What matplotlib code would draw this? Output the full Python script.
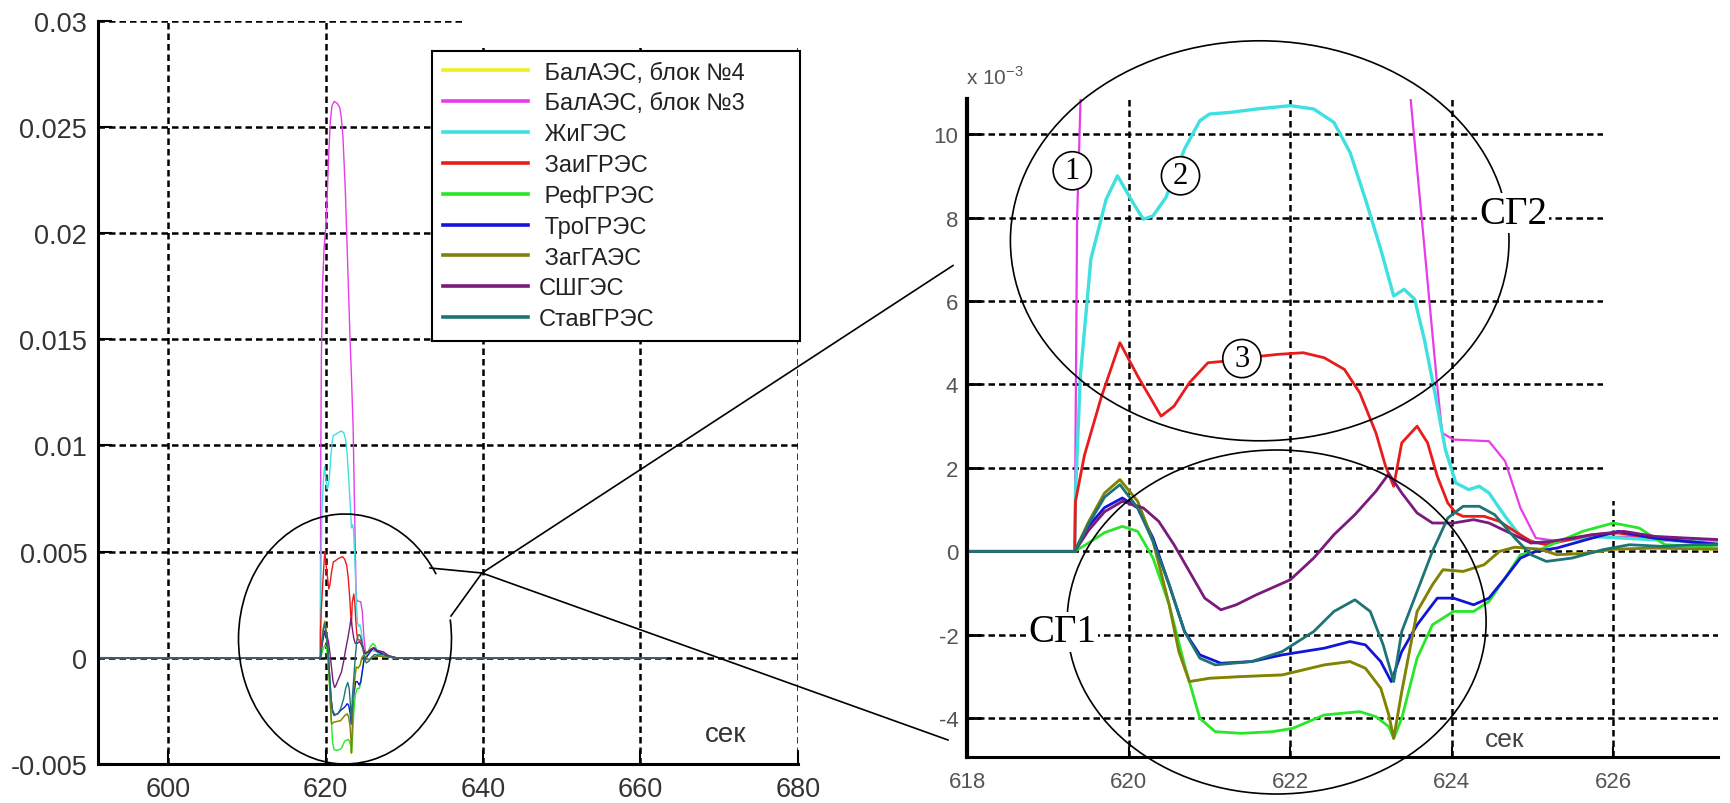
import numpy as np
import matplotlib
matplotlib.use("Agg")
import matplotlib.pyplot as plt
from matplotlib.patches import Ellipse, Arc, Rectangle
from matplotlib.lines import Line2D

plt.rcParams['font.family'] = ['Liberation Sans', 'DejaVu Sans']

NAMES = ['БалАЭС, блок №4', 'БалАЭС, блок №3', 'ЖиГЭС', 'ЗаиГРЭС', 'РефГРЭС',
         'ТроГРЭС', 'ЗагГАЭС', 'СШГЭС', 'СтавГРЭС']
COLORS = ['#f0f020', '#e83ce8', '#3ee0e0', '#e81c1c', '#28e628',
          '#1414d8', '#808010', '#7a1a7a', '#1e7474']

# (time, value in units of 1e-3)
BAL3 = [(591.0, 0), (619.30, 0), (619.33, 0), (619.36, 8.0), (619.45, 14.0), (619.60, 17.5),
        (619.80, 19.3), (620.00, 20.2), (620.20, 21.8), (620.40, 23.8), (620.60, 25.3),
        (620.80, 26.0), (621.10, 26.2), (621.50, 26.1), (621.80, 25.9), (622.00, 25.4),
        (622.20, 24.5), (622.50, 22.0), (622.80, 18.5), (623.10, 15.0), (623.30, 13.0),
        (623.49, 10.84), (623.82, 3.96), (623.88, 2.84), (624.02, 2.68), (624.46, 2.64),
        (624.66, 2.16), (624.85, 1.04), (625.04, 0.32), (625.30, 0.25), (625.80, 0.35),
        (626.30, 0.35), (626.80, 0.3), (627.30, 0.25), (628.0, 0.1), (629.0, 0), (663.3, 0)]
ZHI = [(591.0, 0), (619.30, 0), (619.33, 0), (619.34, 1.4), (619.40, 4.2), (619.53, 7.0),
       (619.72, 8.44), (619.86, 9.0), (620.05, 8.36), (620.18, 7.96), (620.30, 8.04),
       (620.46, 8.48), (620.69, 9.64), (620.88, 10.32), (621.00, 10.48),
       (621.26, 10.52), (621.58, 10.6), (622.00, 10.68), (622.29, 10.6), (622.54, 10.28),
       (622.74, 9.56), (622.93, 8.44), (623.12, 7.24), (623.28, 6.12), (623.41, 6.28),
       (623.54, 6.04), (623.66, 5.08), (623.79, 3.8), (623.92, 2.44), (624.05, 1.64),
       (624.21, 1.48), (624.34, 1.56), (624.46, 1.4), (624.66, 0.84), (624.85, 0.36),
       (625.04, 0.2), (625.30, 0.25), (625.80, 0.35), (626.30, 0.3), (626.80, 0.25),
       (627.30, 0.2), (628.0, 0.08), (629.0, 0), (663.3, 0)]
ZAI = [(591.0, 0), (619.30, 0), (619.33, 0), (619.34, 1.2), (619.45, 2.3), (619.66, 3.7),
       (619.89, 5.0), (620.11, 4.2), (620.40, 3.24), (620.56, 3.48), (620.75, 4.04),
       (620.98, 4.52), (621.20, 4.56), (621.50, 4.65), (621.84, 4.72), (622.16, 4.76),
       (622.42, 4.64), (622.67, 4.36), (622.86, 3.8), (623.06, 2.84), (623.18, 2.04),
       (623.28, 1.56), (623.38, 2.6), (623.57, 3.0), (623.70, 2.6), (623.82, 1.8),
       (623.95, 1.16), (624.05, 0.92), (624.14, 0.84), (624.40, 0.84), (624.59, 0.72),
       (624.78, 0.48), (624.98, 0.24), (625.17, 0.16), (625.74, 0.4), (626.06, 0.44),
       (626.51, 0.32), (626.90, 0.24), (627.34, 0.16), (628.0, 0.08), (629.0, 0), (663.3, 0)]
REF = [(591.0, 0), (619.30, 0), (619.33, 0), (619.50, 0.2), (619.70, 0.45), (619.92, 0.6),
       (620.11, 0.48), (620.30, -0.16), (620.50, -1.28), (620.69, -2.72), (620.88, -4.0),
       (621.07, -4.32), (621.39, -4.36), (621.78, -4.32), (622.03, -4.24), (622.42, -3.92),
       (622.86, -3.84), (623.06, -3.96), (623.22, -4.2), (623.28, -4.48), (623.38, -4.0),
       (623.57, -2.56), (623.76, -1.76), (624.02, -1.44), (624.27, -1.44), (624.46, -1.2),
       (624.66, -0.64), (624.85, -0.08), (625.04, 0.0), (625.23, 0.16), (625.62, 0.48),
       (626.00, 0.68), (626.32, 0.56), (626.64, 0.16), (627.02, 0.12), (627.34, 0.08),
       (628.0, 0.03), (629.0, 0), (663.3, 0)]
TRO = [(591.0, 0), (619.30, 0), (619.33, 0), (619.50, 0.6), (619.70, 1.05), (619.92, 1.28),
       (620.11, 1.04), (620.30, 0.32), (620.50, -0.8), (620.69, -1.92), (620.88, -2.48),
       (621.14, -2.68), (621.52, -2.64), (621.90, -2.48), (622.42, -2.32), (622.74, -2.16),
       (622.93, -2.24), (623.12, -2.64), (623.25, -3.12), (623.38, -2.4), (623.57, -1.76),
       (623.82, -1.12), (624.02, -1.12), (624.27, -1.28), (624.46, -1.12), (624.66, -0.64),
       (624.85, -0.16), (625.04, 0.0), (625.30, 0.08), (625.74, 0.32), (626.06, 0.48),
       (626.50, 0.32), (626.90, 0.24), (627.34, 0.16), (628.0, 0.05), (629.0, 0), (663.3, 0)]
ZAG = [(591.0, 0), (619.30, 0), (619.33, 0), (619.50, 0.7), (619.70, 1.4), (619.89, 1.72),
       (620.11, 1.2), (620.30, 0.24), (620.50, -1.28), (620.62, -2.4), (620.75, -3.12),
       (621.00, -3.04), (621.39, -3.0), (621.90, -2.96), (622.42, -2.72), (622.74, -2.64),
       (622.93, -2.8), (623.12, -3.28), (623.22, -3.92), (623.28, -4.48), (623.38, -3.36),
       (623.57, -1.44), (623.76, -0.8), (623.89, -0.44), (624.14, -0.48), (624.40, -0.32),
       (624.59, 0.0), (624.78, 0.1), (625.10, 0.05), (625.30, -0.08), (625.62, -0.05),
       (626.00, 0.05), (626.50, 0.08), (627.34, 0.05), (629.0, 0), (663.3, 0)]
SSH = [(591.0, 0), (619.30, 0), (619.33, 0), (619.50, 0.5), (619.70, 0.95), (619.92, 1.2),
       (620.18, 1.04), (620.37, 0.72), (620.56, 0.16), (620.75, -0.48), (620.94, -1.12),
       (621.14, -1.4), (621.33, -1.28), (621.58, -1.04), (622.00, -0.68), (622.29, -0.16),
       (622.54, 0.4), (622.80, 0.88), (623.06, 1.44), (623.22, 1.86), (623.38, 1.4),
       (623.57, 0.92), (623.76, 0.68), (624.02, 0.68), (624.27, 0.76), (624.46, 0.68),
       (624.72, 0.44), (624.98, 0.2), (625.23, 0.24), (625.74, 0.4), (626.13, 0.48),
       (626.51, 0.36), (626.90, 0.32), (627.34, 0.28), (628.0, 0.1), (629.0, 0), (663.3, 0)]
STAV = [(591.0, 0), (619.30, 0), (619.33, 0), (619.50, 0.65), (619.70, 1.3), (619.89, 1.6),
        (620.11, 1.04), (620.30, 0.24), (620.50, -0.8), (620.69, -1.92), (620.88, -2.56),
        (621.07, -2.72), (621.52, -2.64), (621.90, -2.4), (622.29, -1.92), (622.54, -1.44),
        (622.80, -1.16), (622.99, -1.44), (623.15, -2.24), (623.28, -3.12), (623.38, -1.92),
        (623.57, -0.96), (623.76, 0.0), (623.95, 0.8), (624.14, 1.08), (624.34, 1.08),
        (624.53, 0.88), (624.78, 0.32), (624.98, -0.08), (625.17, -0.24), (625.49, -0.16),
        (625.87, 0.04), (626.20, 0.16), (626.60, 0.12), (627.00, 0.16), (627.34, 0.16),
        (628.0, 0.05), (629.0, 0), (663.3, 0)]
# БалАЭС блок 4 is not distinguishable in the picture: it lies under ЗагГАЭС
BAL4 = list(ZAG)
SERIES = [BAL4, BAL3, ZHI, ZAI, REF, TRO, ZAG, SSH, STAV]

LEFT_XTICKS = [600, 620, 640, 660, 680]
LEFT_YTICKS = [-0.005, 0, 0.005, 0.01, 0.015, 0.02, 0.025, 0.03]
LEFT_YLABELS = ['-0.005', '0', '0.005', '0.01', '0.015', '0.02', '0.025', '0.03']
RIGHT_XTICKS = [618, 620, 622, 624, 626]
RIGHT_YTICKS = [-4, -2, 0, 2, 4, 6, 8, 10]

W, H = 1730, 804
fig = plt.figure(figsize=(W / 100, H / 100), dpi=100)
fig.patch.set_facecolor('white')


def fx(px):
    return px / W


def fy(py):
    return 1 - py / H


ax1 = fig.add_axes([fx(98.3), fy(765), fx(797.7) - fx(98.3), fy(21.7) - fy(765)])
ax2 = fig.add_axes([fx(967.3), fy(758), fx(1718.3) - fx(967.3), fy(100) - fy(758)])

RIGHT_LW = [2.0, 1.6, 2.4, 2.0, 2.0, 2.0, 2.0, 2.0, 2.0]
for col, s, lw2 in zip(COLORS, SERIES, RIGHT_LW):
    t = np.array([p[0] for p in s])
    v = np.array([p[1] for p in s])
    ax1.plot(t, v * 1e-3, color=col, lw=1.0)
    ax2.plot(t, v, color=col, lw=lw2)

GRID = dict(color='black', linestyle=(0, (2.6, 1.6)), linewidth=1.8)

# left panel
ax1.set_xlim(591.1, 680)
ax1.set_ylim(-0.005, 0.03)
ax1.set_xticks(LEFT_XTICKS)
ax1.set_xticklabels([str(v) for v in LEFT_XTICKS])
ax1.set_yticks(LEFT_YTICKS)
ax1.set_yticklabels(LEFT_YLABELS)
ax1.set_axisbelow(True)
ax1.grid(True, **GRID)
for sp in ['top', 'right']:
    ax1.spines[sp].set_visible(False)
for sp in ['left', 'bottom']:
    ax1.spines[sp].set_linewidth(2.2)
ax1.tick_params(direction='in', length=10, width=1.5, labelsize=19.5, labelcolor='#333333')
ax1.tick_params(axis='y', pad=8)
ax1.tick_params(axis='x', pad=9)
ax1.text(670.8, -0.0036, 'сек', fontsize=20, color='#333333', ha='center', va='center')

handles = [Line2D([0], [0], color=c, lw=2.6) for c in COLORS]
labels = [' ' + n for n in NAMES[:7]] + NAMES[7:]
leg = ax1.legend(handles, labels, loc='upper left',
                 bbox_to_anchor=(fx(432), fy(390), fx(800) - fx(432), fy(52) - fy(390)),
                 bbox_transform=fig.transFigure, mode='expand', borderaxespad=0,
                 fontsize=17, frameon=True, fancybox=False, edgecolor='black',
                 framealpha=1, handlelength=3.6, handletextpad=0.45,
                 labelspacing=0.37, borderpad=0.45)
leg.get_frame().set_linewidth(1.5)
for tx in leg.get_texts():
    tx.set_color('#222222')

# right panel
ax2.set_xlim(618, 627.3)
ax2.set_ylim(-4.927, 10.84)
ax2.set_xticks(RIGHT_XTICKS)
ax2.set_xticklabels([str(v) for v in RIGHT_XTICKS])
ax2.set_yticks(RIGHT_YTICKS)
ax2.set_yticklabels([str(v) for v in RIGHT_YTICKS])
ax2.set_axisbelow(True)
ax2.grid(True, **GRID)
for sp in ['top', 'right']:
    ax2.spines[sp].set_visible(False)
ax2.spines['left'].set_linewidth(3.0)
ax2.spines['bottom'].set_linewidth(2.2)
ax2.tick_params(direction='in', labelsize=16, labelcolor='#555555')
ax2.tick_params(axis='y', length=10, width=2, pad=6.5)
ax2.tick_params(axis='x', length=7, width=1.5, pad=10)
ax2.add_patch(Rectangle((625.87, 1.2), 2.0, 10.0, fc='white', ec='none', zorder=1))
ax2.text(624.65, -4.5, 'сек', fontsize=19, color='#444444', ha='center', va='center')
ax2.annotate(r'x 10$^{\mathregular{-3}}$', xy=(0, 1), xycoords='axes fraction',
             xytext=(-1, 8), textcoords='offset points', ha='left', va='bottom',
             fontsize=15, color='#555555')

CIRC = dict(boxstyle='circle,pad=0.15', fc='white', ec='black', lw=1.2)
for (cx, cy), lab in zip([(619.3, 9.12), (620.64, 9.0), (621.4, 4.62)], ['1', '2', '3']):
    ax2.text(cx, cy, lab, fontsize=22, family='Liberation Serif', ha='center',
             va='center', bbox=CIRC, zorder=6)

# overlay for callout shapes (pixel coordinates)
ov = fig.add_axes([0, 0, 1, 1])
ov.set_xlim(0, W)
ov.set_ylim(H, 0)
ov.axis('off')
ov.patch.set_alpha(0)
ov.add_patch(Rectangle((462, 0), 370, 49, fc='white', ec='none', zorder=1))
ov.add_patch(Arc((345, 640), 213, 250, theta1=-10.5, theta2=324.6, color='black', lw=1.2))
ov.plot([430, 482, 451], [569, 574, 617], color='black', lw=1.2)
ov.plot([482, 953], [574, 266.5], color='black', lw=1.2)
ov.plot([482, 948], [574, 741], color='black', lw=1.2)
ov.add_patch(Ellipse((1259.7, 241.8), 498.6, 400, fill=False, ec='black', lw=1.2))
ov.add_patch(Ellipse((1276.6, 623), 419, 344, fill=False, ec='black', lw=1.2))
SG = dict(fc='white', ec='none', pad=1)
ov.text(1513, 214, 'СГ2', family='Liberation Serif', fontsize=28, ha='center',
        va='center', bbox=SG, zorder=5)
ov.text(1062, 633, 'СГ1', family='Liberation Serif', fontsize=28, ha='center',
        va='center', bbox=SG, zorder=5)

fig.savefig('out.png', dpi=100, facecolor='white')
